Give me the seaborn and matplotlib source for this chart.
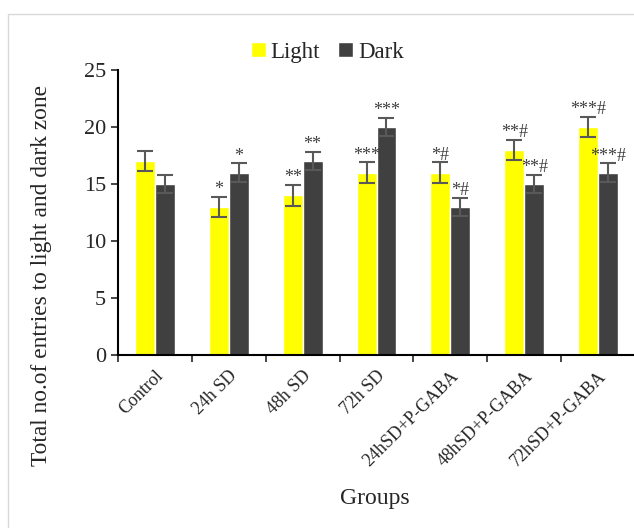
import pandas as pd
import matplotlib.pyplot as plt
import seaborn as sns
from matplotlib.patches import Rectangle

# Data
groups = ["Control", "24h SD", "48h SD", "72h SD",
          "24hSD+P-GABA", "48hSD+P-GABA", "72hSD+P-GABA"]
light = [17, 13, 14, 16, 16, 18, 20]
dark = [15, 16, 17, 20, 13, 15, 16]
light_err = [0.9, 0.9, 0.9, 0.9, 0.9, 0.9, 0.9]
dark_err = [0.8, 0.8, 0.8, 0.8, 0.8, 0.8, 0.8]
light_sig = ["", "*", "**", "***", "*#", "**#", "***#"]
dark_sig = ["", "*", "**", "***", "*#", "**#", "***#"]

df = pd.DataFrame({
    "group": groups * 2,
    "value": light + dark,
    "zone": ["Light"] * len(groups) + ["Dark"] * len(groups),
})

sns.set_style("white")
plt.rcParams["font.family"] = ["Liberation Serif", "DejaVu Serif"]

fig = plt.figure(figsize=(6.34, 5.28), dpi=100)
ax = fig.add_axes([118 / 634, 1 - 355 / 528, 517 / 634, 285 / 528])

sns.barplot(data=df, x="group", y="value", hue="zone",
            palette=["#FFFF00", "#404040"], width=0.54, saturation=1,
            errorbar=None, ax=ax)

# error bars + significance marks
for cont, errs, sigs in zip(ax.containers, [light_err, dark_err], [light_sig, dark_sig]):
    xs = [p.get_x() + p.get_width() / 2 for p in cont.patches]
    hs = [p.get_height() for p in cont.patches]
    ax.errorbar(xs, hs, yerr=errs, fmt="none", ecolor="#595959",
                elinewidth=1.5, capsize=6, capthick=1.5)
    for x, h, e, s in zip(xs, hs, errs, sigs):
        if s:
            ax.annotate(s, (x, h + e), xytext=(0, 2), textcoords="offset points",
                        ha="center", va="baseline", fontsize=13, color="#404040")

ax.set_ylim(0, 25)
ax.set_xlim(-0.5, len(groups) - 0.5)
ax.set_yticks(range(0, 26, 5))
ax.tick_params(axis="y", labelsize=16, length=5, width=1.2, direction="out", left=True)
ax.set_xticks(range(len(groups)))
ax.set_xticklabels(groups, rotation=45, ha="right", rotation_mode="anchor", fontsize=13)
ax.tick_params(axis="x", which="major", length=0, pad=9)
ax.set_xticks([i - 0.5 for i in range(len(groups) + 1)], minor=True)
ax.tick_params(axis="x", which="minor", length=5, width=1.2, bottom=True)

for side in ["top", "right"]:
    ax.spines[side].set_visible(False)
for side in ["left", "bottom"]:
    ax.spines[side].set_color("black")
    ax.spines[side].set_linewidth(1.5)

ax.set_ylabel("Total no.of entries to light and dark zone", fontsize=16.8)
ax.yaxis.set_label_coords(-0.128, 0.28)
ax.set_xlabel("Groups", fontsize=17)
ax.xaxis.set_label_coords(0.497, -0.467)

leg = ax.legend(loc="center", bbox_to_anchor=(0.405, 1.063), ncol=2, frameon=False,
                fontsize=16.5, handlelength=0.65, handleheight=0.65,
                handletextpad=0.2, columnspacing=0.8)

# light grey chart frame
fig.add_artist(Rectangle((8 / 634, -0.2), 1.5, 1.2 - 14 / 528,
                         transform=fig.transFigure, fill=False,
                         edgecolor="#d9d9d9", linewidth=1))

fig.savefig("out.png", dpi=100)
